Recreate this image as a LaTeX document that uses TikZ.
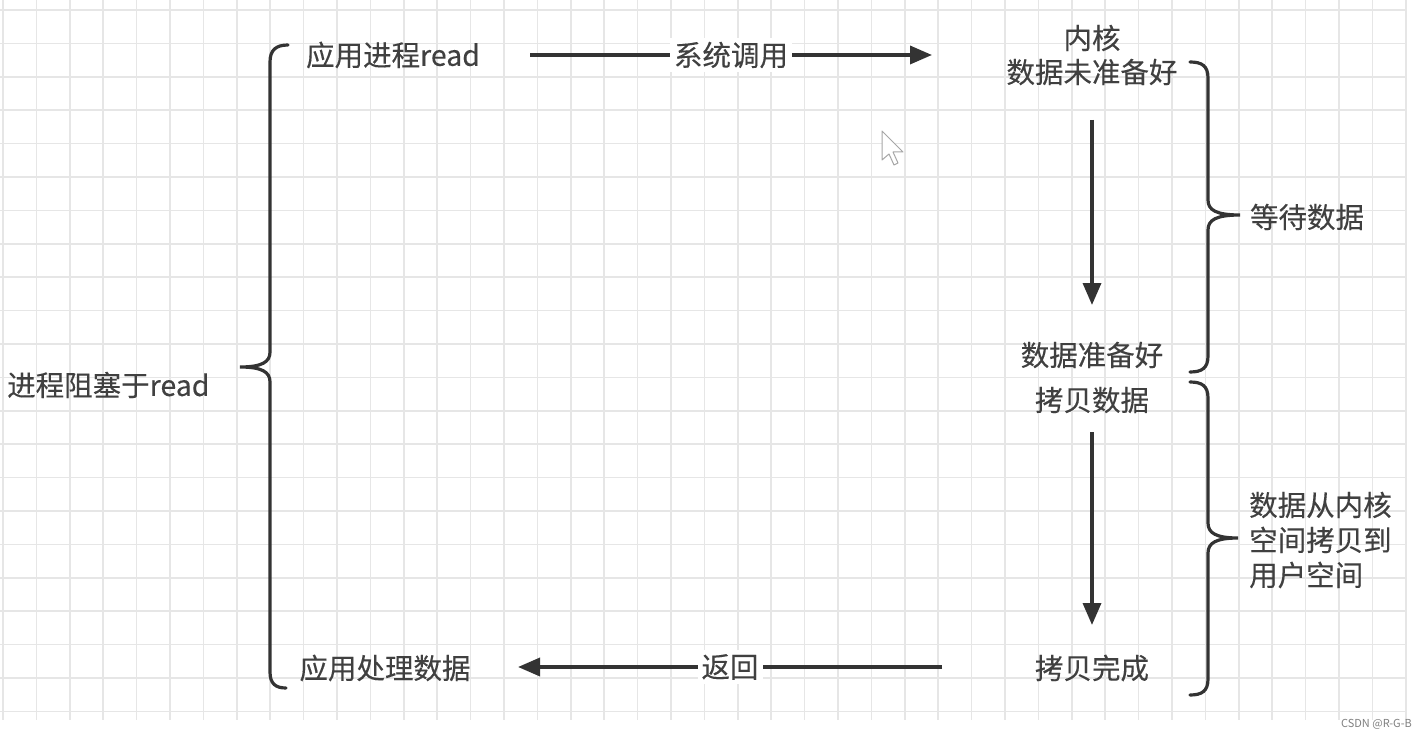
\documentclass[tikz,border=0pt]{standalone}
\usepackage{fontspec}
\setmainfont{Noto Sans CJK SC}
\newfontfamily\lblfont{Noto Sans CJK SC}[FakeBold=0.2]
\usetikzlibrary{arrows.meta}
\definecolor{ink}{HTML}{333333}
\definecolor{txt}{HTML}{404040}
\definecolor{gridc}{HTML}{E6E6E6}
\begin{document}
\begin{tikzpicture}[x=1pt,y=-1pt,
  lbl/.style={text=txt,font=\lblfont\fontsize{28.5}{36}\selectfont,inner sep=1pt},
  onarrow/.style={lbl,fill=white,inner sep=4pt},
  conn/.style={draw=ink,line width=3.5pt,-{Triangle[length=22pt,width=18pt]}},
  bracep/.style={draw=ink,line width=3.2pt,line cap=round}]
\useasboundingbox (0,0) rectangle (1427,738);
\fill[white] (0,0) rectangle (1427,738);
% grid
\foreach \i in {0,...,42} {\draw[gridc,line width=1.6pt] ({3+\i*33.4},0) -- ({3+\i*33.4},720);}
\foreach \j in {0,...,21} {\draw[gridc,line width=1.6pt] (0,{10+\j*33.4}) -- (1406,{10+\j*33.4});}
% nodes
\node[lbl] (app) at (393,55) {应用进程read};
\node[lbl,align=center] (kern) at (1092,55) {内核\\[-2pt]数据未准备好};
\node[lbl] (ready) at (1092,355) {数据准备好};
\node[lbl] (copy) at (1092,400) {拷贝数据};
\node[lbl] (done) at (1092,668) {拷贝完成};
\node[lbl] (proc) at (385,668) {应用处理数据};
\node[lbl] (wait) at (1307,217) {等待数据};
\node[lbl,align=left,anchor=west] (k2u) at (1248,540) {数据从内核\\[-1pt]空间拷贝到\\[-1pt]用户空间};
\node[lbl,anchor=west] (block) at (6,385) {进程阻塞于read};
% connector end points
\coordinate (a1s) at (530,55); \coordinate (a1e) at (932,55);
\coordinate (a2s) at (1092,120); \coordinate (a2e) at (1092,305);
\coordinate (a3s) at (1092,432); \coordinate (a3e) at (1092,625);
\coordinate (a4s) at (942,667); \coordinate (a4e) at (518,667);
\draw[conn] (a1s) -- node[onarrow] (sys) {系统调用} (a1e);
\draw[conn] (a2s) -- (a2e);
\draw[conn] (a3s) -- (a3e);
\draw[conn] (a4s) -- node[onarrow] (ret) {返回} (a4e);
% braces
\draw[bracep] (288,45) .. controls (276,45) and (270,50) .. (270,62) -- (270,352)
  .. controls (270,362) and (262,367) .. (240,367)
  .. controls (262,367) and (270,372) .. (270,382) -- (270,672)
  .. controls (270,684) and (276,688) .. (286,688);
\draw[bracep] (1190,62) .. controls (1202,62) and (1208,66) .. (1208,78) -- (1208,200)
  .. controls (1208,210) and (1216,215) .. (1240,215)
  .. controls (1216,215) and (1208,220) .. (1208,230) -- (1208,356)
  .. controls (1208,368) and (1202,372) .. (1190,372);
\draw[bracep] (1190,382) .. controls (1202,382) and (1208,386) .. (1208,398) -- (1208,523)
  .. controls (1208,533) and (1216,538) .. (1238,538)
  .. controls (1216,538) and (1208,543) .. (1208,553) -- (1208,679)
  .. controls (1208,691) and (1202,695) .. (1190,695);
% mouse cursor
\draw[gray!70,line width=1pt,fill=white,line join=round] (882,131) -- (882,160) -- (889,154) -- (894,165) -- (898,163) -- (893,152) -- (903,152) -- cycle;
% watermark
\node[text=gray,font=\fontsize{11}{13}\selectfont,anchor=east,inner sep=0pt] (wm) at (1412,724) {CSDN @R-G-B};
\end{tikzpicture}
\end{document}
